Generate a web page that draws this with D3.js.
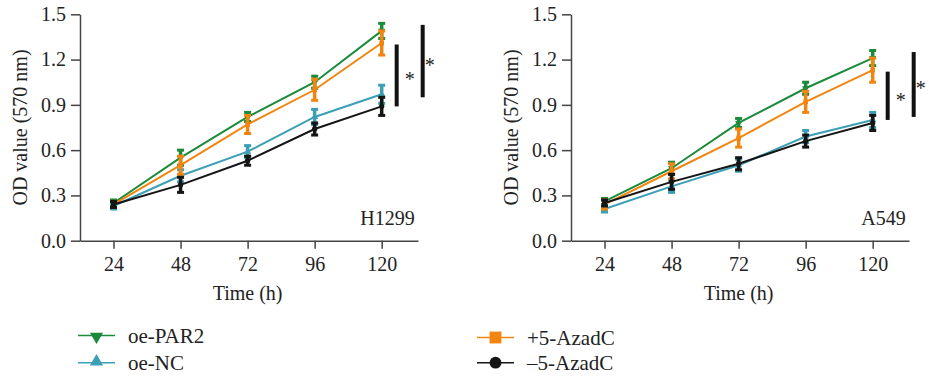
<!DOCTYPE html>
<html>
<head>
<meta charset="utf-8">
<script src="https://cdn.jsdelivr.net/npm/d3@7"></script>
<style>
  body { margin: 0; background: #fff; }
  svg text { font-family: "Liberation Serif", "DejaVu Serif", serif; fill: #222; }
</style>
</head>
<body>
<div id="chart"></div>
<script>
// 데이터
var times = [24, 48, 72, 96, 120];
var yTicks = [0.0, 0.3, 0.6, 0.9, 1.2, 1.5];
var seriesNames = ["oe-PAR2", "oe-NC", "+5-AzadC", "\u20135-AzadC"];

// H1299
var h1299Par2 = [0.25, 0.55, 0.82, 1.05, 1.39];
var h1299Nc = [0.23, 0.43, 0.59, 0.82, 0.97];
var h1299Plus = [0.24, 0.50, 0.77, 1.00, 1.31];
var h1299Minus = [0.24, 0.37, 0.53, 0.74, 0.89];
var h1299Par2Err = [0.02, 0.05, 0.03, 0.04, 0.05];
var h1299NcErr = [0.02, 0.04, 0.04, 0.05, 0.06];
var h1299PlusErr = [0.02, 0.06, 0.06, 0.07, 0.08];
var h1299MinusErr = [0.02, 0.05, 0.03, 0.04, 0.06];
var h1299Sig = [[1.30, 0.89], [1.43, 0.95]];

// A549
var a549Par2 = [0.26, 0.48, 0.78, 1.01, 1.21];
var a549Nc = [0.21, 0.36, 0.50, 0.69, 0.80];
var a549Plus = [0.24, 0.46, 0.68, 0.92, 1.13];
var a549Minus = [0.25, 0.39, 0.51, 0.66, 0.78];
var a549Par2Err = [0.02, 0.04, 0.03, 0.04, 0.05];
var a549NcErr = [0.02, 0.04, 0.04, 0.04, 0.05];
var a549PlusErr = [0.03, 0.05, 0.06, 0.07, 0.08];
var a549MinusErr = [0.02, 0.05, 0.04, 0.04, 0.05];
var a549Sig = [[1.12, 0.80], [1.25, 0.82]];

var colors = ["#1b8a3a", "#3c9fb6", "#f28410", "#151515"];
var symbols = [d3.symbolTriangle, d3.symbolTriangle, d3.symbolSquare, d3.symbolCircle];
var rotations = [180, 0, 0, 0];

var svg = d3.select("#chart")
    .append("svg")
    .attr("width", 929)
    .attr("height", 381);

// 패널 그리기 함수
function drawPanel(x0, x1, label, vals, errs, sig) {
    var x = d3.scaleLinear().domain([12, 133]).range([x0, x1]);
    var y = d3.scaleLinear().domain([0, 1.5]).range([240.7, 14.3]);
    var g = svg.append("g");

    var xAxis = g.append("g")
        .attr("transform", "translate(0," + y(0) + ")")
        .call(d3.axisBottom(x).tickValues(times).tickSize(8).tickPadding(8).tickSizeOuter(0));
    var yAxis = g.append("g")
        .attr("transform", "translate(" + x0 + ",0)")
        .call(d3.axisLeft(y).tickValues(yTicks).tickFormat(d3.format(".1f")).tickSize(9).tickPadding(5).tickSizeOuter(0));
    [xAxis, yAxis].forEach(function (a) {
        a.selectAll("path, line").attr("stroke", "#444").attr("stroke-width", 1.5);
        a.selectAll("text").style("font-size", "20px").attr("fill", "#222");
    });

    g.append("text")
        .attr("x", x(72)).attr("y", 300)
        .attr("text-anchor", "middle")
        .style("font-size", "20px")
        .text("Time (h)");
    g.append("text")
        .attr("transform", "translate(" + (x0 - 53) + "," + y(0.75) + ") rotate(-90)")
        .attr("text-anchor", "middle")
        .style("font-size", "20px")
        .text("OD value (570 nm)");
    g.append("text")
        .attr("x", x(120) + 33).attr("y", 225)
        .attr("text-anchor", "end")
        .style("font-size", "20px")
        .text(label);

    // 시리즈
    var line = d3.line().x(function (d, i) { return x(times[i]); }).y(function (d) { return y(d); });
    vals.forEach(function (v, s) {
        var sg = g.append("g");
        sg.append("path").datum(v)
            .attr("d", line).attr("fill", "none")
            .attr("stroke", colors[s]).attr("stroke-width", 2);
        v.forEach(function (d, i) {
            var cx = x(times[i]);
            var lo = y(d - errs[s][i]), hi = y(d + errs[s][i]);
            sg.append("line").attr("x1", cx).attr("x2", cx).attr("y1", lo).attr("y2", hi)
                .attr("stroke", colors[s]).attr("stroke-width", 3.5);
            [lo, hi].forEach(function (yy) {
                sg.append("line").attr("x1", cx - 3.5).attr("x2", cx + 3.5).attr("y1", yy).attr("y2", yy)
                    .attr("stroke", colors[s]).attr("stroke-width", 3);
            });
            sg.append("path")
                .attr("d", d3.symbol().type(symbols[s]).size(22)())
                .attr("transform", "translate(" + cx + "," + y(d) + ") rotate(" + rotations[s] + ")")
                .attr("fill", colors[s]);
        });
    });

    // 유의성 표시
    var offs = [[15, 28], [41, 48]];
    sig.forEach(function (b, k) {
        var bx = x(120) + offs[k][0];
        g.append("line").attr("x1", bx).attr("x2", bx).attr("y1", y(b[0])).attr("y2", y(b[1]))
            .attr("stroke", "#111").attr("stroke-width", 4);
        g.append("text")
            .attr("x", x(120) + offs[k][1]).attr("y", (y(b[0]) + y(b[1])) / 2 + 11)
            .attr("text-anchor", "middle")
            .style("font-size", "20px")
            .attr("fill", "#444")
            .text("*");
    });
}

drawPanel(80, 418, "H1299",
    [h1299Par2, h1299Nc, h1299Plus, h1299Minus],
    [h1299Par2Err, h1299NcErr, h1299PlusErr, h1299MinusErr], h1299Sig);
drawPanel(571, 909, "A549",
    [a549Par2, a549Nc, a549Plus, a549Minus],
    [a549Par2Err, a549NcErr, a549PlusErr, a549MinusErr], a549Sig);

// 범례
var legendPos = [[78, 335.5], [78, 362.7], [477, 337.5], [477, 362.7]];
var legend = svg.append("g");
seriesNames.forEach(function (name, s) {
    var p = legendPos[s];
    var lg = legend.append("g").attr("transform", "translate(" + p[0] + "," + p[1] + ")");
    lg.append("line").attr("x1", 0).attr("x2", 37).attr("y1", 0).attr("y2", 0)
        .attr("stroke", colors[s]).attr("stroke-width", 1.5);
    lg.append("path")
        .attr("d", d3.symbol().type(symbols[s]).size(s < 2 ? 75 : (s == 2 ? 140 : 110))())
        .attr("transform", "translate(18.5," + (s == 0 ? 1 : (s == 1 ? -1 : 0)) + ") rotate(" + rotations[s] + ")")
        .attr("fill", colors[s]);
    lg.append("text").attr("x", 50).attr("y", 0).attr("dy", "0.35em")
        .style("font-size", "21px")
        .text(name);
});
</script>
</body>
</html>
